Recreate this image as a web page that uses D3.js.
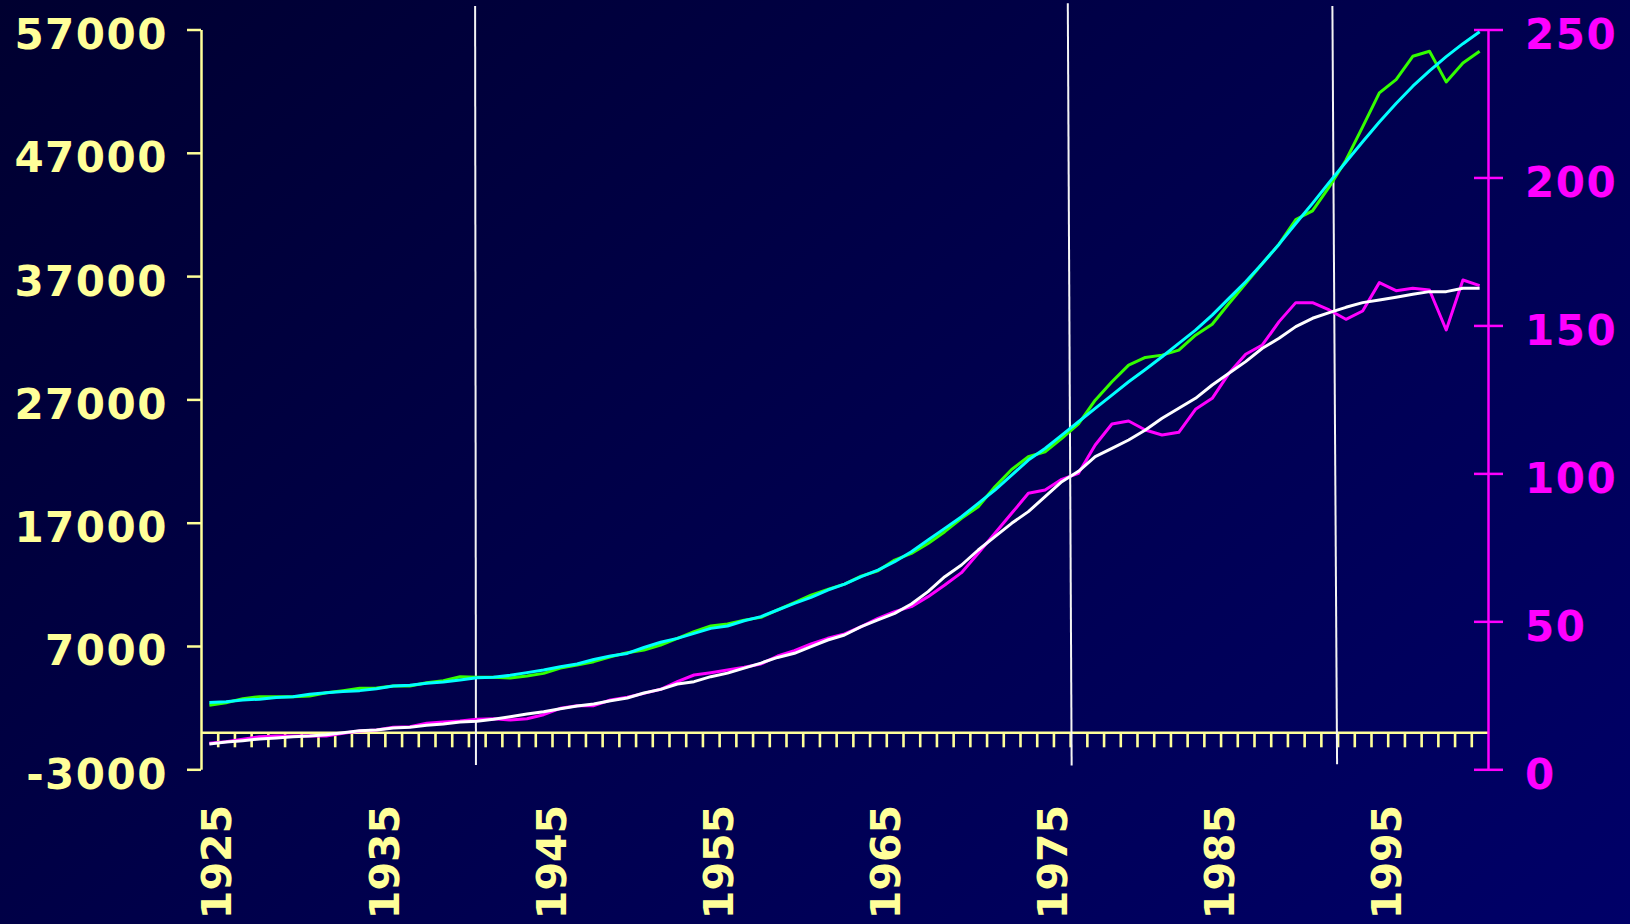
<!DOCTYPE html>
<html>
<head>
<meta charset="utf-8">
<script src="https://cdn.jsdelivr.net/npm/d3@7"></script>
<style>
  html, body { margin: 0; padding: 0; overflow: hidden; background: #000040; }
  svg { display: block; }
  text { font-family: 'DejaVu Sans', Verdana, sans-serif; font-weight: bold; }
</style>
</head>
<body>
<svg id="chart" width="1630" height="924"></svg>
<script>
// ---------------- data ----------------
const years = [1925,1926,1927,1928,1929,1930,1931,1932,1933,1934,1935,1936,1937,1938,1939,
  1940,1941,1942,1943,1944,1945,1946,1947,1948,1949,1950,1951,1952,1953,1954,1955,1956,1957,
  1958,1959,1960,1961,1962,1963,1964,1965,1966,1967,1968,1969,1970,1971,1972,1973,1974,1975,
  1976,1977,1978,1979,1980,1981,1982,1983,1984,1985,1986,1987,1988,1989,1990,1991,1992,1993,
  1994,1995,1996,1997,1998,1999,2000,2001];

// left-axis series
const greenActual = [2190,2400,2730,2890,2890,2890,2940,3210,3380,3570,3590,3750,3750,4020,4190,
  4510,4460,4460,4400,4570,4780,5210,5460,5730,6130,6460,6670,7080,7620,8160,8620,8780,9100,
  9320,9920,10510,11130,11590,12020,12670,13100,13970,14510,15320,16270,17350,18290,19920,21320,
  22350,22750,23840,25020,26940,28430,29780,30400,30590,31000,32210,33100,34780,36400,38020,39590,
  41590,42290,44240,46400,49100,51860,52940,54830,55240,52750,54290,55240];

const cyanTrend = [2420,2480,2620,2690,2830,2890,3080,3210,3300,3380,3540,3750,3810,3970,4080,
  4240,4430,4460,4620,4840,5050,5320,5540,5910,6190,6400,6880,7300,7620,8020,8430,8620,9050,
  9380,9920,10460,10940,11540,12020,12620,13160,13840,14650,15590,16540,17480,18570,19650,20860,
  22080,23020,24100,25190,26270,27350,28430,29430,30460,31540,32620,33840,35190,36540,38020,39590,
  41270,42900,44600,46250,47900,49500,51000,52400,53650,54800,55850,56810];

// right-axis series
const magentaActual = [8.78,9.34,10.13,11.03,11.25,11.25,11.37,11.25,12.16,12.94,13.28,14.18,14.41,
  15.54,15.99,16.32,16.89,17.11,16.66,17.11,18.46,20.6,21.5,21.5,23.42,24.32,25.67,27.03,29.62,
  31.87,32.66,33.56,34.46,35.59,38.29,40.09,42.35,44.26,45.73,48.2,51.02,53.27,54.96,58.34,62.29,
  66.45,72.99,79.75,86.5,93.26,94.39,98.0,100.02,109.6,116.69,117.71,114.67,112.98,113.88,121.65,
  125.37,133.82,140.24,143.39,151.28,157.7,157.7,155.22,152.07,154.88,164.46,161.75,162.54,161.98,
  148.46,165.36,163.44];

const whiteTrend = [8.55,9.23,9.68,10.24,10.58,11.03,11.25,11.7,12.38,13.06,13.28,13.96,14.18,14.86,
  15.31,15.99,16.21,16.89,17.79,18.69,19.48,20.49,21.39,22.07,23.19,24.1,25.8,27.0,28.83,29.62,
  31.3,32.5,34.2,35.9,37.8,39.2,41.44,43.7,45.39,48.2,50.46,52.71,55.86,60.03,65.1,69.04,74.11,
  78.62,83.13,87.07,92.14,97.2,100.7,105.65,108.47,111.29,114.67,118.61,121.99,125.37,129.87,
  133.82,137.76,142.27,145.65,149.59,152.41,154.32,156.12,157.7,158.6,159.5,160.52,161.42,161.42,
  162.54,162.54];

// tick labels
const leftTicks = [-3000, 7000, 17000, 27000, 37000, 47000, 57000];
const rightTicks = [0, 50, 100, 150, 200, 250];
const yearLabels = [1925, 1935, 1945, 1955, 1965, 1975, 1985, 1995];
const minorYearTicks = [1925.5,1926.5,1927.5,1928.5,1929.5,1930.5,1931.5,1932.5,1933.5,1934.5,
  1935.5,1936.5,1937.5,1938.5,1939.5,1940.5,1941.5,1942.5,1943.5,1944.5,1945.5,1946.5,1947.5,
  1948.5,1949.5,1950.5,1951.5,1952.5,1953.5,1954.5,1955.5,1956.5,1957.5,1958.5,1959.5,1960.5,
  1961.5,1962.5,1963.5,1964.5,1965.5,1966.5,1967.5,1968.5,1969.5,1970.5,1971.5,1972.5,1973.5,
  1974.5,1975.5,1976.5,1977.5,1978.5,1979.5,1980.5,1981.5,1982.5,1983.5,1984.5,1985.5,1986.5,
  1987.5,1988.5,1989.5,1990.5,1991.5,1992.5,1993.5,1994.5,1995.5,1996.5,1997.5,1998.5,1999.5,2000.5];

// vertical marker lines (year at top / bottom, left-axis value at top / bottom)
const markerYearTop = [1940.9, 1976.36, 1992.19];
const markerYearBottom = [1940.95, 1976.59, 1992.47];
const markerValueTop = [58900, 59120, 58900];
const markerValueBottom = [-2650, -2700, -2600];

// ---------------- drawing ----------------
const W = 1630, H = 924;
const svg = d3.select('#chart');
const YELLOW = '#ffff99', MAGENTA = '#ff00ff';
const FONT = "'DejaVu Sans', Verdana, sans-serif";

const defs = svg.append('defs');
const grad = defs.append('linearGradient').attr('id', 'bg')
  .attr('gradientUnits', 'userSpaceOnUse')
  .attr('x1', 0).attr('y1', 0).attr('x2', 1138).attr('y2', 1340);
grad.append('stop').attr('offset', '0%').attr('stop-color', '#000030');
grad.append('stop').attr('offset', '100%').attr('stop-color', '#000068');
svg.append('rect').attr('width', W).attr('height', H).attr('fill', 'url(#bg)');

const x = d3.scaleLinear().domain([1924.5, 2001.5]).range([201, 1488]);
const yL = d3.scaleLinear().domain([-3000, 57000]).range([769.3, 29.5]);
const yR = d3.scaleLinear().domain([0, 250]).range([769.3, 29.5]);

// bottom axis (at left value 0)
const gx = svg.append('g').attr('transform', `translate(0,${yL(0)})`)
  .call(d3.axisBottom(x).tickValues(minorYearTicks).tickSize(15).tickSizeOuter(0).tickFormat(''));
gx.selectAll('path.domain').attr('stroke', YELLOW).attr('stroke-width', 2.5);
gx.selectAll('.tick line').attr('stroke', YELLOW).attr('stroke-width', 2.6);

// year labels
svg.append('g').selectAll('text').data(yearLabels).join('text')
  .attr('transform', d => `translate(${x(d) + 22},805) rotate(-90)`)
  .attr('text-anchor', 'end')
  .attr('font-size', 41)
  .attr('fill', YELLOW)
  .text(d => String(d));

// left axis
const gl = svg.append('g').attr('transform', 'translate(201,0)')
  .call(d3.axisLeft(yL).tickValues(leftTicks).tickSize(14).tickSizeOuter(0).tickPadding(20)
    .tickFormat(d => String(d)));
gl.selectAll('path.domain').attr('stroke', YELLOW).attr('stroke-width', 2.5);
gl.selectAll('.tick line').attr('stroke', YELLOW).attr('stroke-width', 2.5);
gl.selectAll('.tick text').attr('fill', YELLOW).attr('font-size', 42)
  .attr('font-family', FONT).attr('font-weight', 'bold')
  .attr('letter-spacing', 1.5)
  .attr('dy', '0.45em').attr('x', -33);

// right axis
const gr = svg.append('g').attr('transform', 'translate(1488,0)')
  .call(d3.axisRight(yR).tickValues(rightTicks).tickSize(15).tickSizeOuter(0).tickPadding(21)
    .tickFormat(d => String(d)));
gr.selectAll('path.domain').attr('stroke', MAGENTA).attr('stroke-width', 2.5);
gr.selectAll('.tick line').attr('stroke', MAGENTA).attr('stroke-width', 2.5).attr('x1', -14);
gr.selectAll('.tick text').attr('fill', MAGENTA).attr('font-size', 42)
  .attr('font-family', FONT).attr('font-weight', 'bold')
  .attr('letter-spacing', 1.5)
  .attr('dy', '0.45em').attr('x', 37);

// vertical marker lines
svg.append('g').selectAll('line').data(markerYearTop).join('line')
  .attr('x1', (d, i) => x(d)).attr('y1', (d, i) => yL(markerValueTop[i]))
  .attr('x2', (d, i) => x(markerYearBottom[i])).attr('y2', (d, i) => yL(markerValueBottom[i]))
  .attr('stroke', '#f4f4f4').attr('stroke-width', 2);

// series lines
const series = [
  { values: greenActual, scale: yL, color: '#33ff00' },
  { values: cyanTrend, scale: yL, color: '#00ffff' },
  { values: magentaActual, scale: yR, color: '#ff00ff' },
  { values: whiteTrend, scale: yR, color: '#ffffff' }
];
series.forEach(s => {
  const line = d3.line().x((d, i) => x(years[i])).y(d => s.scale(d));
  svg.append('path').datum(s.values)
    .attr('d', line)
    .attr('fill', 'none')
    .attr('stroke', s.color)
    .attr('stroke-width', 3)
    .attr('stroke-linejoin', 'round');
});
</script>
</body>
</html>
